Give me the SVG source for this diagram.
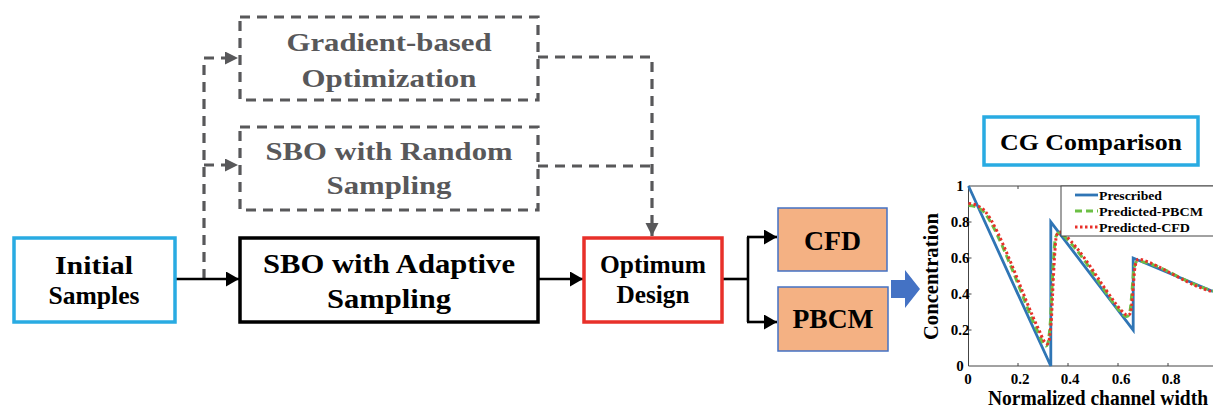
<svg xmlns="http://www.w3.org/2000/svg" width="1213" height="408" viewBox="0 0 1213 408" font-family="'Liberation Serif', 'Times New Roman', Times, 'DejaVu Serif', serif">
<defs>
<style>
text{font-family:'Liberation Serif','Times New Roman',Times,'DejaVu Serif',serif;font-weight:700;text-anchor:middle}
.dash{fill:none;stroke:#58585a;stroke-width:3.2;stroke-dasharray:10 7}
.gt{fill:#58585a;font-size:26px}
.bt{fill:#000}
.solid{fill:none;stroke:#000;stroke-width:2.6}
.orange{fill:#f4b183;stroke:#4472c4;stroke-width:1.5}
.tick{font-size:15px}
.leg{font-size:13px;text-anchor:start}
</style>
<marker id="ah" markerUnits="userSpaceOnUse" markerWidth="14" markerHeight="16" refX="13" refY="7.5" orient="auto">
<path d="M0,0 L13,7.5 L0,15 z" fill="#000"/>
</marker>
<marker id="ahg" markerUnits="userSpaceOnUse" markerWidth="14" markerHeight="14" refX="13" refY="6.5" orient="auto">
<path d="M0,0 L13,6.5 L0,13 z" fill="#58585a"/>
</marker>
</defs>
<rect width="1213" height="408" fill="#fff"/>

<g id="connectors">
<path class="dash" d="M204,279 V58 H238" marker-end="url(#ahg)"/>
<path class="dash" d="M204,165 H238" marker-end="url(#ahg)"/>
<path class="dash" d="M538,57 H652 V236" marker-end="url(#ahg)"/>
<path class="dash" d="M538,166 H652"/>
<path class="solid" d="M175,279 H239" marker-end="url(#ah)"/>
<path class="solid" d="M538,279 H583" marker-end="url(#ah)"/>
<path class="solid" d="M722,279 H748"/>
<path class="solid" d="M748,237 V322"/>
<path class="solid" d="M747,237 H777" marker-end="url(#ah)"/>
<path class="solid" d="M747,322 H777" marker-end="url(#ah)"/>
<polygon points="891,280 905,280 905,270 920,289 905,308 905,298 891,298" fill="#4472c4"/>
</g>

<g id="gradient">
<rect class="dash" x="240" y="17" width="298" height="83"/>
<text class="gt" x="389" y="51" textLength="205" lengthAdjust="spacingAndGlyphs">Gradient-based</text>
<text class="gt" x="389" y="87" textLength="175" lengthAdjust="spacingAndGlyphs">Optimization</text>
</g>

<g id="random">
<rect class="dash" x="240" y="127" width="298" height="83"/>
<text class="gt" x="389" y="160" textLength="247" lengthAdjust="spacingAndGlyphs">SBO with Random</text>
<text class="gt" x="389" y="194" textLength="125" lengthAdjust="spacingAndGlyphs">Sampling</text>
</g>

<g id="initial">
<rect x="14" y="238" width="161" height="84" fill="none" stroke="#29abe2" stroke-width="3.5"/>
<text class="bt" x="94" y="274" font-size="25" textLength="78" lengthAdjust="spacingAndGlyphs">Initial</text>
<text class="bt" x="94" y="304" font-size="25" textLength="91" lengthAdjust="spacingAndGlyphs">Samples</text>
</g>

<g id="adaptive">
<rect x="240" y="238" width="298" height="84" fill="none" stroke="#000" stroke-width="3.5"/>
<text class="bt" x="389" y="273" font-size="27" textLength="252" lengthAdjust="spacingAndGlyphs">SBO with Adaptive</text>
<text class="bt" x="389" y="308" font-size="27" textLength="124" lengthAdjust="spacingAndGlyphs">Sampling</text>
</g>

<g id="optimum">
<rect x="584" y="238" width="138" height="84" fill="none" stroke="#e8302a" stroke-width="3.5"/>
<text class="bt" x="653" y="273" font-size="25" textLength="106" lengthAdjust="spacingAndGlyphs">Optimum</text>
<text class="bt" x="653" y="303" font-size="25" textLength="73" lengthAdjust="spacingAndGlyphs">Design</text>
</g>

<g id="cfd">
<rect class="orange" x="778" y="208" width="109" height="63"/>
<text class="bt" x="832.5" y="250" font-size="27" textLength="57" lengthAdjust="spacingAndGlyphs">CFD</text>
</g>

<g id="pbcm">
<rect class="orange" x="778" y="287" width="110" height="64"/>
<text class="bt" x="833" y="328" font-size="27" textLength="81" lengthAdjust="spacingAndGlyphs">PBCM</text>
</g>

<g id="cg-title">
<rect x="984" y="117" width="214" height="48" fill="none" stroke="#29abe2" stroke-width="3.5"/>
<text class="bt" x="1091" y="150" font-size="23" textLength="182" lengthAdjust="spacingAndGlyphs">CG Comparison</text>
</g>

<g id="chart">
<g stroke="#444" stroke-width="1" fill="none">
<path d="M968.5,186 H1214 M968.5,186 V366 H1214"/>
<path d="M1018,366 v-3 M1068,366 v-3 M1118,366 v-3 M1168,366 v-3 M1018,186 v3 M1068,186 v3 M1118,186 v3 M1168,186 v3"/>
<path d="M968.5,222 h3 M968.5,258 h3 M968.5,294 h3 M968.5,330 h3"/>
</g>
<path d="M968.5,186 L1050.8,366 L1050.8,222 L1133.2,330 L1133.2,258 L1213,291.5" fill="none" stroke="#2f75b5" stroke-width="2.8" stroke-linejoin="miter"/>
<path d="M968.5,205.5 C975,205.5 980,208 984,212 C992,222 1000,240 1010,264 S1030,316 1038,332 C1041,339 1043,345 1046,346 C1048,346 1049,340 1050.5,320 C1051.5,300 1053,260 1055,240 C1056,235 1057.5,233 1059,233 C1063,234 1068,240 1075,248 C1085,260 1098,281 1105,291 C1112,301 1118,310 1124,315.5 C1126,317 1128,317 1129.5,314 C1131,308 1132,290 1133.5,272 C1134.5,264 1136,261 1138,261 C1148,262 1160,267 1175,275 S1200,287 1213,291" fill="none" stroke="#6cbf45" stroke-width="3" stroke-dasharray="7 4"/>
<path d="M968.5,203.5 C976,204 981,207 985,211 C993,221 1001,239 1011,263 S1031,314 1039,330 C1042,337 1044,343 1047,344 C1049,344 1050,338 1051.5,318 C1052.5,298 1054,258 1056,238 C1057,233 1058.5,232 1060,232 C1064,233 1069,239 1076,247 C1086,259 1099,280 1106,290 C1113,300 1119,309 1125,314 C1127,316 1129,316 1130.5,313 C1132,307 1133,289 1134.5,271 C1135.5,262 1137,259 1139,259 C1149,261 1161,268 1176,276 S1200,288 1213,292" fill="none" stroke="#e8302a" stroke-width="3" stroke-dasharray="2.5 2.5"/>
<rect x="1061" y="186" width="160" height="50" fill="#fff" stroke="#444" stroke-width="1"/>
<line x1="1075" y1="195" x2="1098" y2="195" stroke="#2f75b5" stroke-width="2.8"/>
<line x1="1075" y1="211" x2="1098" y2="211" stroke="#6cbf45" stroke-width="3" stroke-dasharray="7 4"/>
<line x1="1075" y1="227" x2="1098" y2="227" stroke="#e8302a" stroke-width="3" stroke-dasharray="2.5 2.5"/>
<text class="leg" x="1099" y="199.5" textLength="63" lengthAdjust="spacingAndGlyphs">Prescribed</text>
<text class="leg" x="1099" y="215.5" textLength="104" lengthAdjust="spacingAndGlyphs">Predicted-PBCM</text>
<text class="leg" x="1099" y="231.5" textLength="91" lengthAdjust="spacingAndGlyphs">Predicted-CFD</text>
<g class="tick" style="text-anchor:end">
<text x="960" y="191">1</text>
<text x="960" y="227">0.8</text>
<text x="960" y="263">0.6</text>
<text x="960" y="299">0.4</text>
<text x="960" y="335">0.2</text>
<text x="960" y="371">0</text>
</g>
<g class="tick">
<text x="968" y="384">0</text>
<text x="1020" y="384">0.2</text>
<text x="1070" y="384">0.4</text>
<text x="1121" y="384">0.6</text>
<text x="1171" y="384">0.8</text>
</g>
<text x="1098" y="405" font-size="20" textLength="220" lengthAdjust="spacingAndGlyphs">Normalized channel width</text>
<text transform="translate(938,276.5) rotate(-90)" font-size="20" textLength="127" lengthAdjust="spacingAndGlyphs">Concentration</text>
</g>
</svg>
